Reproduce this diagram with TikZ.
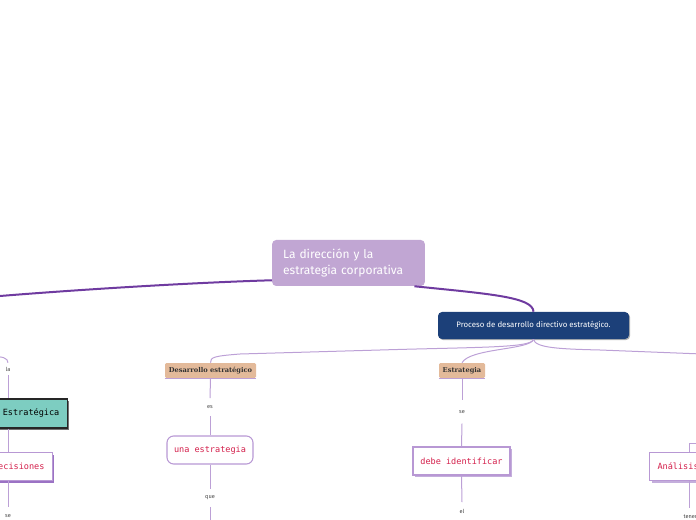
\documentclass[tikz,border=0pt]{standalone}
\usepackage{fontspec}
\setmainfont{Fira Sans}
\newfontfamily\monof{DejaVu Sans Mono}
\newfontfamily\slabf{DejaVu Serif}
\usetikzlibrary{shadows}
\definecolor{titlefill}{HTML}{C1A6D3}
\definecolor{mainline}{HTML}{6F3BA0}
\definecolor{bluefill}{HTML}{1C4079}
\definecolor{thinline}{HTML}{BCA0D6}
\definecolor{tanfill}{HTML}{E3BA9A}
\definecolor{tealfill}{HTML}{7DCDC1}
\definecolor{redtext}{HTML}{D41F4B}
\definecolor{labeltext}{HTML}{444444}
\definecolor{boxline}{HTML}{B898D4}
\definecolor{purpshadow}{HTML}{9B72C4}
\definecolor{lightshadow}{HTML}{C4AEDC}
\begin{document}
\begin{tikzpicture}[x=0.75pt,y=-0.75pt,
  mainconn/.style={draw=mainline,line width=1.5pt},
  thinconn/.style={draw=thinline,line width=0.75pt},
  titlebox/.style={fill=titlefill,rounded corners=3pt,text=white,align=left,
    text width=98pt,inner xsep=8.25pt,minimum height=34.5pt,
    font=\fontsize{9}{12.5}\selectfont},
  bluebox/.style={fill=bluefill,rounded corners=3pt,text=white,minimum width=143.25pt,
    minimum height=20.25pt,font=\fontsize{5.9}{7}\selectfont,
    drop shadow={shadow xshift=0.8pt,shadow yshift=-0.8pt,fill=black,opacity=0.3}},
  tanbox/.style={fill=tanfill,rounded corners=1pt,minimum height=11.25pt,inner sep=1pt,
    text=black!80,font=\slabf\bfseries\fontsize{5}{6}\selectfont},
  lbl/.style={text=labeltext,font=\fontsize{4.2}{5}\selectfont,inner sep=1pt,minimum height=13pt},
  redbox/.style={draw=boxline,line width=0.8pt,fill=white,text=redtext,
    font=\monof\fontsize{6.4}{8}\selectfont,minimum height=21pt},
  shadowp/.style={drop shadow={shadow xshift=1.5pt,shadow yshift=-1.5pt,fill=purpshadow,opacity=1}},
  shadowl/.style={drop shadow={shadow xshift=1.5pt,shadow yshift=-1.5pt,fill=lightshadow,opacity=1}}
]
\useasboundingbox (0,0) rectangle (696,520);

% central and blue nodes
\node[titlebox] (root) at (348.5,263) {La dirección y la\\estrategia corporativa};
\node[bluebox] (blue) at (533.5,325.5) {Proceso de desarrollo directivo estratégico.};

% main connectors
\coordinate (leftoff) at (-6,296.5);
\draw[mainconn] ([yshift=4.5pt]root.south west) .. controls (180,283) and (60,291) .. (leftoff);
\draw[mainconn] ([xshift=-8pt]root.south east) .. controls (490,294) and (533,297) .. (blue.north);

% second-level
\node[tanbox,minimum width=68.25pt] (des) at (210.5,370.5) {Desarrollo estratégico};
\node[tanbox,minimum width=34.5pt] (est) at (462,370.5) {Estrategia};
\draw[thinconn] (des.south west) -- (des.south east);
\draw[thinconn] (est.south west) -- (est.south east);
\coordinate (rightoff) at (702,354);
\draw[thinconn] (blue.south) .. controls (532,348) and (480,347) .. (380,350)
  -- (240,354) .. controls (215,356) and (210,357) .. (des.north);
\draw[thinconn] (blue.south) .. controls (531,350) and (470,348) .. (est.north);
\draw[thinconn] (blue.south) .. controls (535,348) and (560,349) .. (600,350) -- (rightoff);

% Desarrollo estrategico branch
\node[lbl] (es) at (210,407) {es};
\node[redbox,rounded corners=5pt,minimum width=64.5pt] (una) at (210,450) {una estrategia};
\node[lbl] (que) at (210,498) {que};
\coordinate (queoff) at (210,526);
\draw[thinconn] (des.south) -- (es.north);
\draw[thinconn] (es.south) -- (una.north);
\draw[thinconn] (una.south) -- (que.north);
\draw[thinconn] (que.south) -- (queoff);

% Estrategia branch
\node[lbl,minimum height=17pt] (se2) at (462,412) {se};
\node[redbox,shadowl,minimum width=72.75pt] (debe) at (461.5,461) {debe identificar};
\node[lbl] (el) at (462,511) {el};
\draw[thinconn] (est.south) -- (se2.north);
\draw[thinconn] (se2.south) -- (debe.north);
\draw[thinconn] (debe.south) -- (el.north);

% left branch
\coordinate (laoff) at (-8,357);
\node[lbl,minimum height=9pt] (la) at (8,369) {la};
\node[draw=black!85,line width=1pt,fill=tealfill,anchor=east,text width=70pt,align=right,
  inner xsep=6pt,minimum height=21.75pt,font=\monof\fontsize{6.4}{8}\selectfont,
  drop shadow={shadow xshift=1.5pt,shadow yshift=-1.5pt,fill=black!55,opacity=1}]
  (strat) at (68,413.5) {Estratégica};
\node[redbox,shadowp,anchor=east,text width=55pt,align=right,inner xsep=6pt]
  (deci) at (53,466.5) {ecisiones};
\node[lbl] (se1) at (8,516) {se};
\draw[thinconn] (laoff) .. controls (2,356) and (8,358) .. (la.north);
\draw[thinconn] (la.south) -- (la.south |- strat.north);
\draw[thinconn] (la.south |- strat.south) -- (la.south |- deci.north);
\draw[thinconn] (la.south |- deci.south) -- (se1.north);

% right branch
\node[redbox,shadowl,anchor=west,text width=60pt,align=left,inner xsep=6pt]
  (ana) at (649,466.5) {Análisis};
\node[lbl,anchor=west] (tenem) at (682,517) {tenem};
\coordinate (anaoff) at (702,443);
\draw[thinconn] ([xshift=-1.5pt]tenem.north |- ana.north) |- (anaoff);
\draw[thinconn] ([xshift=-1.5pt]tenem.north |- ana.south) -- ([xshift=-1.5pt]tenem.north);
\end{tikzpicture}
\end{document}
